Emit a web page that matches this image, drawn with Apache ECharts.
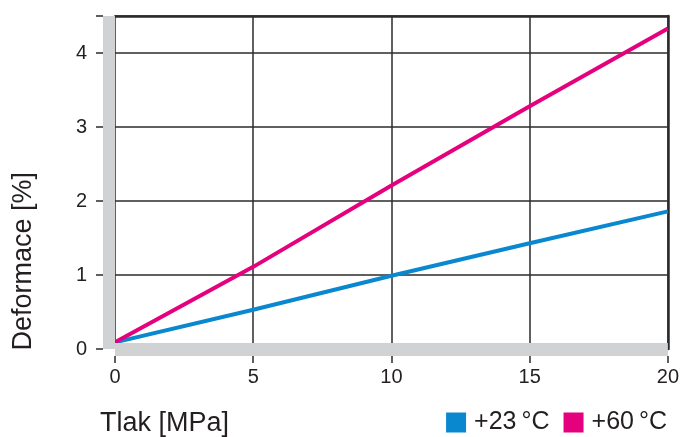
<!DOCTYPE html>
<html>
<head>
<meta charset="utf-8">
<script src="https://cdn.jsdelivr.net/npm/echarts@6/dist/echarts.min.js"></script>
<style>html,body{margin:0;padding:0;background:#fff}#c{width:682px;height:437px}</style>
</head>
<body>
<div id="c"></div>
<script>
var pressure = [0, 5, 10, 15, 20];
var def23 = [0.09, 0.53, 0.99, 1.43, 1.86];
var def60 = [0.09, 1.11, 2.21, 3.28, 4.33];
var seriesNames = ['+23\u2009°C', '+60\u2009°C'];
var xTitle = 'Tlak [MPa]';
var yTitle = 'Deformace [%]';

var FONT = '"Liberation Sans", Arial, Helvetica, sans-serif';
var TXT = '#231f20';
var GRID = '#2b2b2b';
var BAND = '#d1d2d4';

function pairs(xs, ys){ return xs.map(function(x,i){ return [x, ys[i]]; }); }

var chart = echarts.init(document.getElementById('c'), null, {renderer:'canvas'});
chart.setOption({
  animation: false,
  backgroundColor: '#fff',
  grid: {left: 115, right: 14, top: 16, bottom: 88, containLabel: false},
  xAxis: [
    {type:'value', position:'bottom', min:0, max:20, interval:5, z:3,
     axisLine:{show:true, onZero:false, lineStyle:{color:BAND, width:13, cap:'butt'}},
     axisTick:{show:false}, axisLabel:{show:false}, splitLine:{show:false}},
    {type:'value', position:'bottom', offset:7, min:0, max:20, interval:5, z:0,
     axisLine:{show:false, onZero:false},
     axisTick:{show:true, length:7, lineStyle:{color:GRID, width:1.5}},
     axisLabel:{show:true, margin:11, color:TXT, fontSize:20, fontFamily:FONT},
     splitLine:{show:true, lineStyle:{color:GRID, width:1.5}}},
    {type:'value', position:'top', min:0, max:20, interval:5, z:1,
     axisLine:{show:true, onZero:false, lineStyle:{color:GRID, width:2.5}},
     axisTick:{show:false}, axisLabel:{show:false}, splitLine:{show:false}}
  ],
  yAxis: [
    {type:'value', position:'left', offset:6, min:0, max:4.5, interval:1, z:3,
     axisLine:{show:true, onZero:false, lineStyle:{color:BAND, width:12, cap:'butt'}},
     axisTick:{show:false}, axisLabel:{show:false}, splitLine:{show:false}},
    {type:'value', position:'left', offset:12, min:0, max:4.5, interval:1, z:0,
     axisLine:{show:false, onZero:false},
     axisTick:{show:true, length:7, lineStyle:{color:GRID, width:1.5}},
     axisLabel:{show:true, margin:16, color:TXT, fontSize:20, fontFamily:FONT,
       formatter:function(v){ return (v % 1 === 0) ? String(v) : ''; }},
     splitLine:{show:true, lineStyle:{color:GRID, width:1.5}}},
    {type:'value', position:'right', min:0, max:4.5, interval:1, z:1,
     axisLine:{show:true, onZero:false, lineStyle:{color:GRID, width:2.5}},
     axisTick:{show:false}, axisLabel:{show:false}, splitLine:{show:false}}
  ],
  legend: {
    right: 15, bottom: 2, padding: 0, itemWidth: 20, itemHeight: 20, itemGap: 14,
    icon: 'rect',
    textStyle: {color: TXT, fontSize: 25, fontFamily: FONT, padding:[0,0,0,3]},
    data: seriesNames
  },
  graphic: [
    {type:'text', left: 100, bottom: 0,
     style:{text: xTitle, fill: TXT, font: '27px ' + FONT}},
    {type:'text', left: 10, top: 172, rotation: Math.PI/2,
     style:{text: yTitle, fill: TXT, font: '27px ' + FONT}}
  ],
  series: [
    {name: seriesNames[0], type:'line', xAxisIndex:0, yAxisIndex:0, z:2,
     data: pairs(pressure, def23), showSymbol:false, symbol:'none',
     itemStyle:{color:'#0a88cf'}, lineStyle:{color:'#0a88cf', width:4}},
    {name: seriesNames[1], type:'line', xAxisIndex:0, yAxisIndex:0, z:2,
     data: pairs(pressure, def60), showSymbol:false, symbol:'none',
     itemStyle:{color:'#e5007e'}, lineStyle:{color:'#e5007e', width:4}}
  ]
});
</script>
</body>
</html>
